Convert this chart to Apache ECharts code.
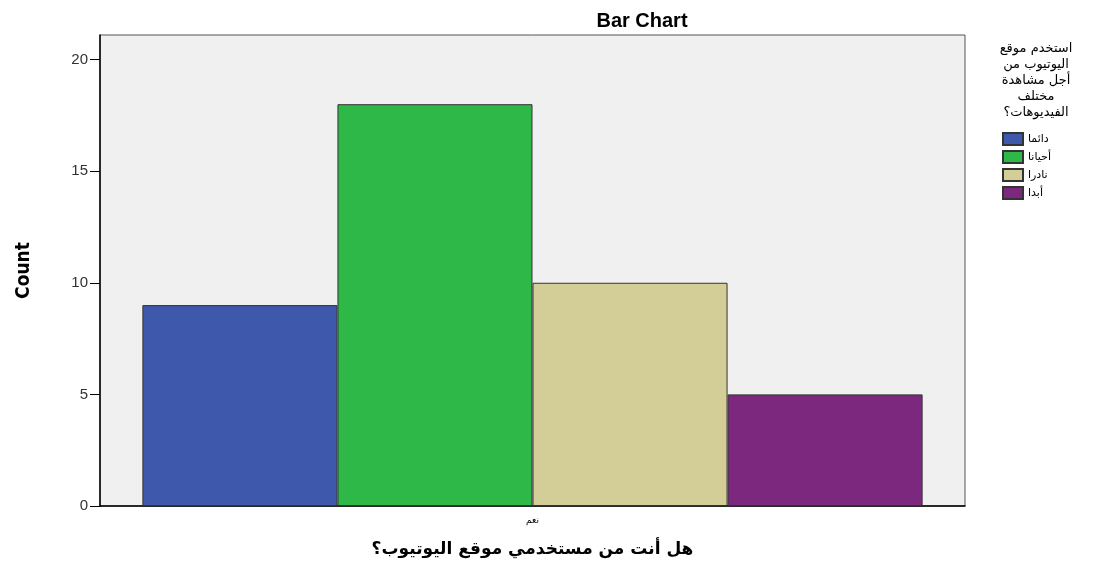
<!DOCTYPE html>
<html>
<head>
<meta charset="utf-8">
<script src="https://cdn.jsdelivr.net/npm/echarts@6/dist/echarts.min.js"></script>
<style>
  html, body { margin: 0; padding: 0; background: #fff; }
  #chart { width: 1098px; height: 561px; }
</style>
</head>
<body>
<div id="chart"></div>
<script>
// data
const categories = ["نعم"];
const seriesNames = ["دائما", "أحيانا", "نادرا", "أبدا"];
const seriesValues = [[9], [18], [10], [5]];
const colors = ["#3e58ac", "#2eb848", "#d3ce97", "#7b287e"];
const yTicks = [0, 5, 10, 15, 20];
const legendTitle = ["استخدم موقع", "اليوتيوب من", "أجل مشاهدة", "مختلف", "الفيديوهات؟"];

const chart = echarts.init(document.getElementById("chart"));

const series = seriesNames.map((name, i) => ({
  name: name,
  type: "bar",
  data: seriesValues[i],
  barGap: "0%",
  barCategoryGap: "9.8%",
  itemStyle: { color: colors[i], borderColor: "#333", borderWidth: 1 },
  emphasis: { disabled: true },
}));

const option = {
  animation: false,
  color: colors,
  title: {
    text: "Bar Chart",
    left: 637,
    top: 6,
    textAlign: "center",
    textStyle: { fontFamily: "Liberation Sans", fontSize: 20, fontWeight: "bold", color: "#000" },
  },
  grid: {
    left: 100,
    right: 133,
    top: 35,
    bottom: 55,
    outerBoundsMode: "none",
    show: true,
    backgroundColor: "#f0f0f0",
    borderColor: "#555",
    borderWidth: 1,
  },
  legend: {
    orient: "vertical",
    left: 997,
    top: 127,
    icon: "rect",
    itemWidth: 20,
    itemHeight: 12,
    itemGap: 4,
    data: seriesNames,
    textStyle: { fontFamily: "DejaVu Sans", fontSize: 11, color: "#000" },
  },
  xAxis: {
    type: "category",
    data: categories,
    name: "هل أنت من مستخدمي موقع اليوتيوب؟",
    nameLocation: "middle",
    nameGap: 35,
    nameTextStyle: { fontFamily: "DejaVu Sans", fontSize: 17, fontWeight: "bold", color: "#000" },
    axisLine: { lineStyle: { color: "#000", width: 1.5 } },
    axisTick: { alignWithLabel: true, length: 9, lineStyle: { color: "#000" } },
    axisLabel: { fontFamily: "DejaVu Sans", fontSize: 9, color: "#000", margin: 10 },
  },
  yAxis: {
    type: "value",
    min: 0,
    max: 21.1,
    interval: 5,
    name: "Count",
    nameLocation: "middle",
    nameGap: 66,
    nameTextStyle: { fontFamily: "DejaVu Sans Condensed", fontSize: 19, fontWeight: "bold", color: "#000" },
    splitLine: { show: false },
    axisLine: { show: true, lineStyle: { color: "#000", width: 1.5 } },
    axisTick: { show: true, length: 10, customValues: yTicks, lineStyle: { color: "#000" } },
    axisLabel: { fontFamily: "Liberation Sans", fontSize: 15, color: "#333", margin: 12, customValues: yTicks },
  },
  graphic: legendTitle.map((line, i) => ({
    type: "text",
    x: 1036,
    y: 42 + i * 16,
    style: {
      text: line,
      fontFamily: "DejaVu Sans",
      fontSize: 13,
      fill: "#000",
      textAlign: "center",
    },
  })),
  series: series,
};

chart.setOption(option);
</script>
</body>
</html>
